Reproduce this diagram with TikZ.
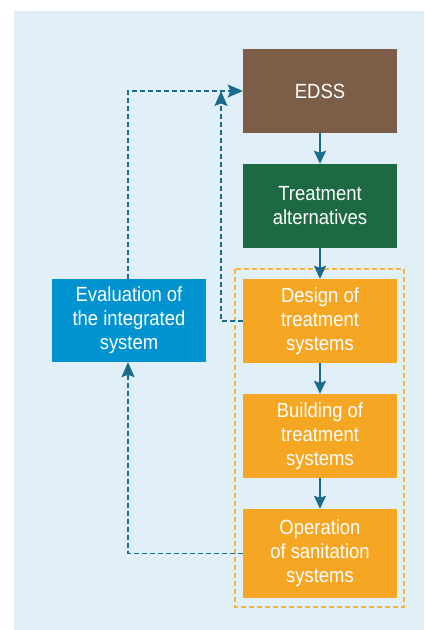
\documentclass[tikz,border=0pt]{standalone}
\usepackage{fontspec}
\setmainfont{Liberation Sans}[FakeStretch=0.9]
\usetikzlibrary{arrows.meta}
\definecolor{bgblue}{HTML}{E1EFF9}
\definecolor{edssbrown}{HTML}{7B5D48}
\definecolor{altgreen}{HTML}{1D6A42}
\definecolor{steporange}{HTML}{F5A623}
\definecolor{evalblue}{HTML}{0093D0}
\definecolor{arrowteal}{HTML}{1A6A8C}
\definecolor{frameorange}{HTML}{F5B342}
\tikzset{
  boxnode/.style={rectangle, minimum width=154pt, minimum height=84pt, inner sep=0pt,
    text=white, align=center, font=\fontsize{20.5}{24}\selectfont},
  flowarrow/.style={draw=arrowteal, line width=1.4pt, -{Stealth[length=13pt,width=12pt,inset=2pt]}},
  fbline/.style={draw=arrowteal, line width=1.3pt, dash pattern=on 5pt off 3pt},
  fbarrow/.style={fbline, -{Stealth[length=15pt,width=13pt,inset=2.5pt]}},
}
\begin{document}
\begin{tikzpicture}[x=1pt,y=-1pt]
\useasboundingbox (0,0) rectangle (424,630);
\fill[bgblue] (14,11) rectangle (424,630);
% frame around the implementation steps
\draw[frameorange, line width=1.3pt, dash pattern=on 5pt off 3pt] (235,269) rectangle (404,607);
\node[boxnode, fill=edssbrown] (edss) at (320,91) {EDSS};
\node[boxnode, fill=altgreen] (alt) at (320,206) {Treatment\\alternatives};
\node[boxnode, fill=steporange] (design) at (320,321) {Design of\\treatment\\systems};
\node[boxnode, fill=steporange] (build) at (320,436) {Building of\\treatment\\systems};
\node[boxnode, fill=steporange, minimum height=89pt] (oper) at (320,553.5) {Operation\\of sanitation\\systems};
\node[boxnode, fill=evalblue, minimum height=83pt] (eval) at (129,320.5) {Evaluation of\\the integrated\\system};
% main flow
\draw[flowarrow] (edss.south) -- (alt.north);
\draw[flowarrow] (alt.south) -- (design.north);
\draw[flowarrow] (design.south) -- (build.north);
\draw[flowarrow] (build.south) -- (oper.north);
% feedback loops
\coordinate (topleft) at (128,91);
\coordinate (designturn) at (221,321);
\coordinate (designtop) at (221,91);
\coordinate (operturn) at (128,553.5);
\draw[fbarrow] (design.west) -- (designturn) -- (designtop);
\draw[fbarrow] (eval.north -| topleft) -- (topleft) -- (edss.west);
\draw[fbarrow] (oper.west) -- (operturn) -- (eval.south -| operturn);
\end{tikzpicture}
\end{document}
